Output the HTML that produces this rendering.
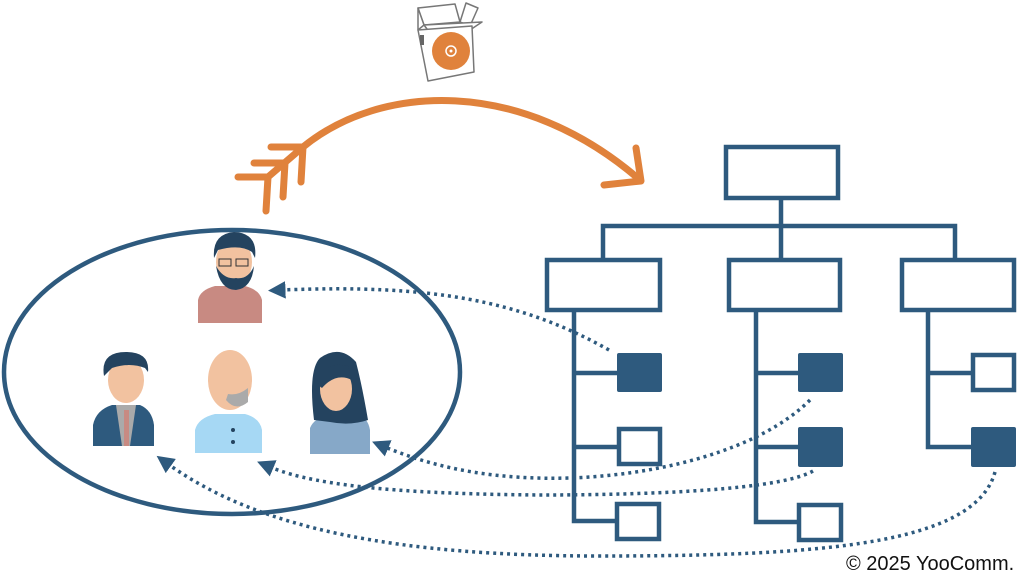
<!DOCTYPE html>
<html><head><meta charset="utf-8"><style>
html,body{margin:0;padding:0;background:#fff;width:1024px;height:571px;overflow:hidden}
svg{display:block}
</style></head><body>
<svg width="1024" height="571" viewBox="0 0 1024 571" xmlns="http://www.w3.org/2000/svg">
<defs>
<marker id="ah" viewBox="0 0 10 10" refX="2" refY="5" markerWidth="5" markerHeight="5" orient="auto-start-reverse">
<path d="M0,0 L10,5 L0,10 z" fill="#2e5a7e"/></marker>
</defs>
<g stroke="#777" stroke-width="1.5" fill="#fff" stroke-linejoin="round">
<polygon points="418,8 455,4 460,22 424,25"/>
<polygon points="460,22 466,3 478,8 470,26"/>
<polygon points="424,25 482,22 470,30 430,33"/>
<polygon points="418,8 424,25 418,30"/>
<polygon points="418,30 472,26 474,72 428,81"/>
</g>
<circle cx="451" cy="51" r="19" fill="#e0823c"/>
<circle cx="451" cy="51" r="5" fill="none" stroke="#fff" stroke-width="1.5"/>
<circle cx="451" cy="51" r="1.5" fill="#fff"/>
<rect x="420" y="35" width="4" height="10" fill="#666"/>
<g stroke="#e0823c" stroke-width="7" fill="none" stroke-linecap="round" stroke-linejoin="round">
<path d="M268,177 L303,147 C380,84 520,76 640,180"/>
<path d="M604,185 L641,181 L636,148"/>
<path d="M238,177 L268,177 L266,211"/>
<path d="M254,163 L285,163 L283,197"/>
<path d="M271,147 L303,147 L301,182"/>
</g>
<ellipse cx="232" cy="372" rx="228" ry="142" fill="none" stroke="#2e5a7e" stroke-width="4.5"/>
<g>
<path d="M198,323 L198,300 Q200,290 215,286 L245,286 Q260,290 262,300 L262,323 z" fill="#c88a82"/>
<ellipse cx="234" cy="262" rx="18" ry="24" fill="#f2c2a0"/>
<path d="M214,258 Q212,234 234,232 Q258,233 255,258 L252,252 Q240,244 218,250 z" fill="#24435f"/>
<path d="M216,266 Q220,290 236,290 Q252,288 254,266 Q248,280 236,278 Q224,280 216,266 z" fill="#24435f"/>
<rect x="219" y="259" width="12" height="7" fill="none" stroke="#333" stroke-width="1"/>
<rect x="236" y="259" width="12" height="7" fill="none" stroke="#333" stroke-width="1"/>
<path d="M93,446 L93,425 Q96,410 112,405 L140,405 Q152,410 154,425 L154,446 z" fill="#2e5a7e"/>
<path d="M116,405 L136,405 L130,446 L122,446 z" fill="#aaa"/>
<rect x="124" y="410" width="5" height="36" fill="#c88a82"/>
<ellipse cx="126" cy="380" rx="18" ry="23" fill="#f2c2a0"/>
<path d="M104,376 Q100,352 126,352 Q150,352 148,372 L145,368 Q130,362 112,368 z" fill="#24435f"/>
<path d="M195,453 L195,430 Q198,418 215,414 L245,414 Q260,418 262,430 L262,453 z" fill="#a6d8f4"/>
<ellipse cx="230" cy="380" rx="22" ry="30" fill="#f2c2a0"/>
<path d="M226,400 Q236,412 248,402 L248,388 Q238,396 228,394 z" fill="#aaa"/>
<circle cx="233" cy="430" r="2" fill="#24435f"/><circle cx="233" cy="442" r="2" fill="#24435f"/>
<path d="M310,454 L310,428 Q314,418 330,414 L358,414 Q368,418 370,430 L370,454 z" fill="#86a8c8"/>
<path d="M314,420 Q308,370 320,358 Q340,344 356,362 Q362,385 368,420 Q350,426 330,422 z" fill="#24435f"/>
<ellipse cx="336" cy="389" rx="16" ry="22" fill="#f2c2a0"/>
<path d="M318,385 Q322,360 348,366 L352,380 Q336,372 322,388 z" fill="#24435f"/>
</g>
<g stroke="#2e5a7e" stroke-width="4.5" fill="none">
<rect x="726" y="147" width="112" height="51"/>
<path d="M781,198 V226 M603,258 V226 H955 V258 M781,226 V258"/>
<rect x="547" y="260" width="113" height="50"/>
<rect x="729" y="260" width="111" height="50"/>
<rect x="902" y="260" width="112" height="50"/>
<path d="M574,310 V521 H617 M574,373 H617 M574,447 H619"/>
<path d="M756,310 V522 H799 M756,373 H799 M756,447 H799"/>
<path d="M928,310 V447 H972 M928,373 H973"/>
<rect x="619" y="429" width="41" height="35"/>
<rect x="617" y="504" width="42" height="35"/>
<rect x="799" y="505" width="42" height="35"/>
<rect x="973" y="355" width="41" height="35"/>
</g>
<g fill="#2e5a7e">
<rect x="617" y="353" width="45" height="39" rx="2"/>
<rect x="798" y="353" width="45" height="39" rx="2"/>
<rect x="798" y="427" width="45" height="40" rx="2"/>
<rect x="971" y="427" width="45" height="40" rx="2"/>
</g>
<g stroke="#2e5a7e" stroke-width="3.5" fill="none" stroke-dasharray="3 4">
<path d="M609,350 C520,300 430,284 282,290" marker-end="url(#ah)"/>
<path d="M810,400 C760,450 660,475 570,478 C500,480 440,470 385,447" marker-end="url(#ah)"/>
<path d="M813,471 C780,490 650,495 540,495 C420,494 320,488 270,467" marker-end="url(#ah)"/>
<path d="M995,472 C975,545 820,556 600,556 C400,556 260,530 168,464" marker-end="url(#ah)"/>
</g>
<text x="846" y="570" font-family="Liberation Sans, sans-serif" font-size="20" fill="#111">© 2025 YooComm.</text>
</svg>
</body></html>
